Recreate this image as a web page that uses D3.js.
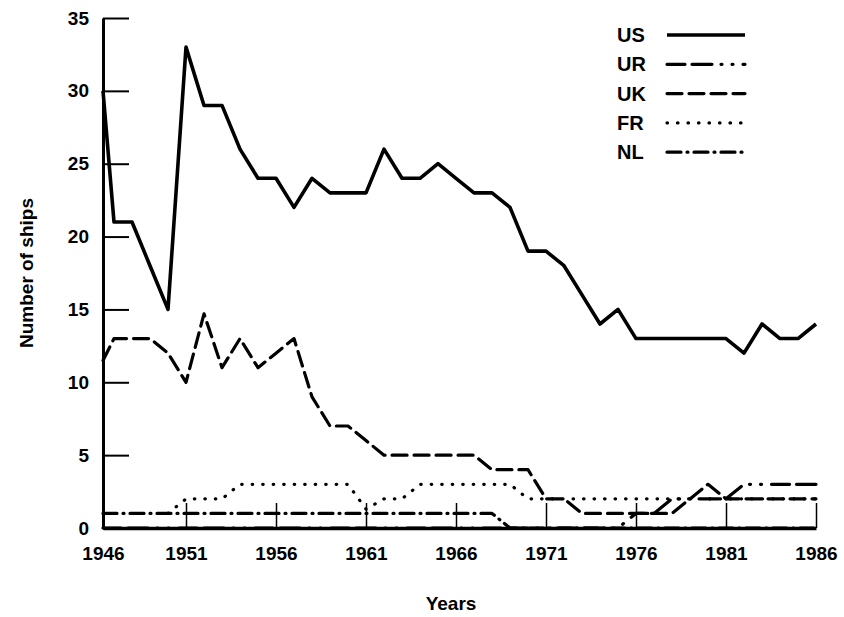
<!DOCTYPE html>
<html>
<head>
<meta charset="utf-8">
<script src="https://cdn.jsdelivr.net/npm/d3@7"></script>
<style>
  html, body { margin: 0; padding: 0; background: #fff; }
  svg { display: block; }
  text { font-family: "Liberation Sans", Arial, Helvetica, sans-serif; fill: #000; font-weight: bold; }
</style>
</head>
<body>
<svg id="chart" width="844" height="617"></svg>
<script>
// ---- data ----
const years = d3.range(1946, 1987);
const seriesNames = ["US", "UR", "UK", "FR", "NL"];
const US = [30,21,21,18,15,33,29,29,26,24,24,22,24,23,23,23,26,24,24,25,24,23,23,22,19,19,18,16,14,15,13,13,13,13,13,13,12,14,13,13,14];
const UR = [0,0,0,0,0,0,0,0,0,0,0,0,0,0,0,0,0,0,0,0,0,0,0,0,0,0,0,0,0,0,1,1,2,2,2,2,3,3,3,3,3];
const UK = [11.5,13,13,13,12,10,14.7,11,13,11,12,13,9,7,7,6,5,5,5,5,5,5,4,4,4,2,2,1,1,1,1,1,1,2,3,2,2,2,2,2,2];
// FR first appears in 1950
const FR = [null,null,null,null,1,2,2,2,3,3,3,3,3,3,3,1.3,2,2,3,3,3,3,3,3,2,2,2,2,2,2,2,2,2,2,2,2,2,2,2,2,2];
const NL = [1,1,1,1,1,1,1,1,1,1,1,1,1,1,1,1,1,1,1,1,1,1,1,0,0,0,0,0,0,0,0,0,0,0,0,0,0,0,0,0,0];
const yTicks = [0,5,10,15,20,25,30,35];
const xTicks = [1946,1951,1956,1961,1966,1971,1976,1981,1986];
const xTitle = "Years";
const yTitle = "Number of ships";

// ---- styles ----
const dashes = {
  US: null,
  UR: "18,7,20,9,1,10,1,10",
  UK: "15,7",
  FR: "0.5,10",
  NL: "14,6,1,6"
};

const svg = d3.select("#chart");

// x scale is slightly compressed for the first year, as in the original drawing
const x = d3.scaleLinear().domain([1946, 1947, 1986]).range([103, 114, 816]);
const y = d3.scaleLinear().domain([0, 35]).range([528, 18]);

// axes
const yAxis = d3.axisLeft(y).tickValues(yTicks).tickSize(-26).tickSizeOuter(0).tickPadding(14);
const xAxis = d3.axisBottom(x).tickValues(xTicks).tickSize(-25).tickSizeOuter(0).tickPadding(19).tickFormat(d3.format("d"));

const gy = svg.append("g").attr("transform", `translate(${x(1946)},0)`).call(yAxis);
gy.select(".domain").attr("stroke", "#000").attr("stroke-width", 3);
gy.selectAll(".tick line").attr("stroke", "#000").attr("stroke-width", 2);
gy.selectAll(".tick text").attr("font-size", 19).attr("fill", "#000");

const gx = svg.append("g").attr("transform", `translate(0,${y(0)})`).call(xAxis);
gx.select(".domain").attr("stroke", "#000").attr("stroke-width", 3.5);
gx.selectAll(".tick line").attr("stroke", "#000").attr("stroke-width", 1.5)
  .filter(d => d === 1946).remove();
gx.selectAll(".tick text").attr("font-size", 19).attr("fill", "#000");

// titles
svg.append("text")
  .attr("transform", `translate(33,${(y(0) + y(35)) / 2}) rotate(-90)`)
  .attr("text-anchor", "middle")
  .attr("font-size", 19)
  .text(yTitle);

svg.append("text")
  .attr("x", 451).attr("y", 610)
  .attr("text-anchor", "middle")
  .attr("font-size", 19)
  .text(xTitle);

// lines
const data = { US, UR, UK, FR, NL };
const line = d3.line()
  .defined(d => d[1] !== null)
  .x(d => x(d[0]))
  .y(d => y(d[1]));

seriesNames.forEach(name => {
  const pts = years.map((yr, i) => [yr, data[name][i]]);
  svg.append("path")
    .datum(pts)
    .attr("fill", "none")
    .attr("stroke", "#000")
    .attr("stroke-width", name === "US" ? 3.6 : 3.2)
    .attr("stroke-linejoin", "round")
    .attr("stroke-linecap", name === "US" ? "butt" : "round")
    .attr("stroke-dasharray", dashes[name])
    .attr("d", line);
});

// legend
const legend = svg.append("g").attr("transform", "translate(617,35)");
seriesNames.forEach((name, i) => {
  const g = legend.append("g").attr("transform", `translate(0,${i * 29.3})`);
  g.append("text").attr("x", 0).attr("y", 0).attr("dy", "0.35em")
    .attr("font-size", 20).text(name);
  g.append("line")
    .attr("x1", 50).attr("x2", 128).attr("y1", 0).attr("y2", 0)
    .attr("stroke", "#000")
    .attr("stroke-width", name === "US" ? 3.6 : 3.2)
    .attr("stroke-linecap", name === "US" ? "butt" : "round")
    .attr("stroke-dasharray", dashes[name]);
});
</script>
</body>
</html>
